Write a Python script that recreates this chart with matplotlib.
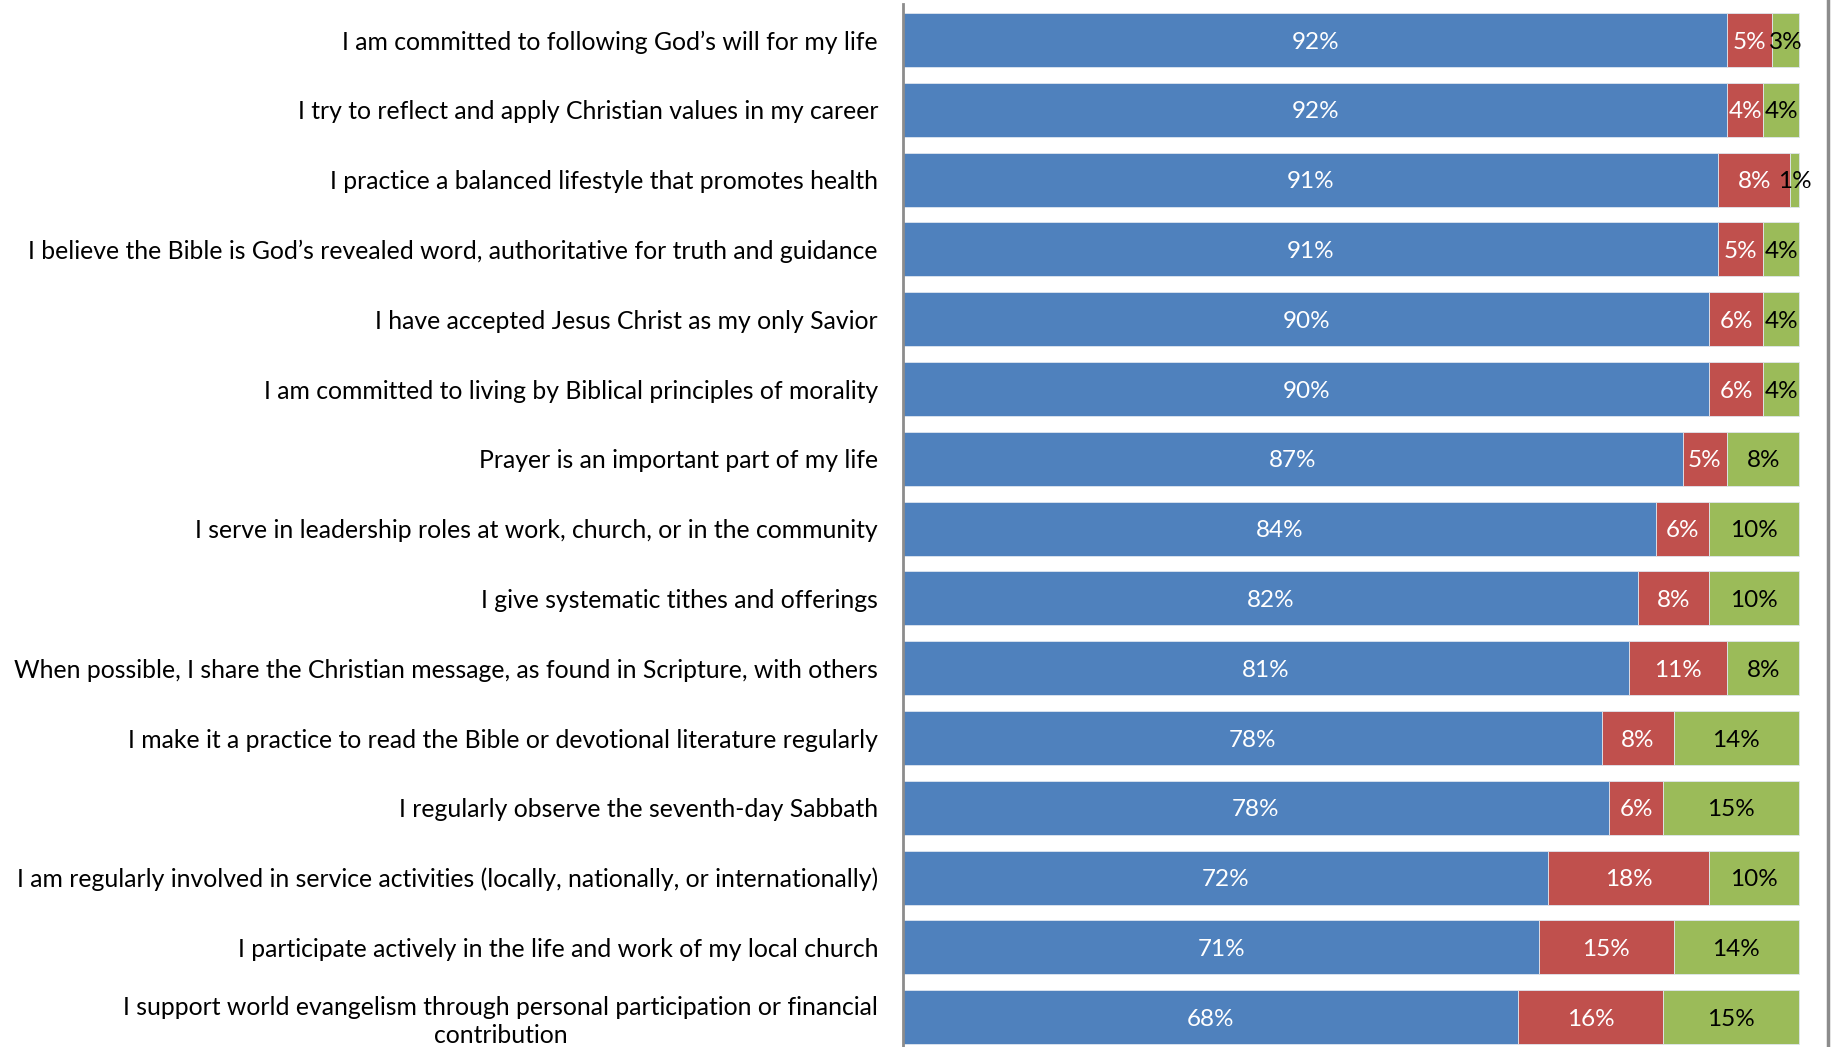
import matplotlib.pyplot as plt
import numpy as np

plt.rcParams['font.family'] = ['Lato', 'DejaVu Sans']

# survey statements, top to bottom
statements = [
    "I am committed to following God\u2019s will for my life",
    "I try to reflect and apply Christian values in my career",
    "I practice a balanced lifestyle that promotes health",
    "I believe the Bible is God\u2019s revealed word, authoritative for truth and guidance",
    "I have accepted Jesus Christ as my only Savior",
    "I am committed to living by Biblical principles of morality",
    "Prayer is an important part of my life",
    "I serve in leadership roles at work, church, or in the community",
    "I give systematic tithes and offerings",
    "When possible, I share the Christian message, as found in Scripture, with others",
    "I make it a practice to read the Bible or devotional literature regularly",
    "I regularly observe the seventh-day Sabbath",
    "I am regularly involved in service activities (locally, nationally, or internationally)",
    "I participate actively in the life and work of my local church",
    "I support world evangelism through personal participation or financial\ncontribution",
]

blue_vals = [92, 92, 91, 91, 90, 90, 87, 84, 82, 81, 78, 78, 72, 71, 68]
red_vals = [5, 4, 8, 5, 6, 6, 5, 6, 8, 11, 8, 6, 18, 15, 16]
green_vals = [3, 4, 1, 4, 4, 4, 8, 10, 10, 8, 14, 15, 10, 14, 15]

colors = ['#4F81BD', '#C0504D', '#9BBB59']
text_colors = ['white', 'white', 'black']

W, H = 1839, 1047
fig = plt.figure(figsize=(W / 100, H / 100), dpi=100)

# plot area in pixels
x0, x_end, x_right = 903, 1799, 1828
ax = fig.add_axes([x0 / W, 0, (x_right - x0) / W, 1])

vals = np.array([blue_vals, red_vals, green_vals], dtype=float)
totals = vals.sum(axis=0)
fracs = vals / totals

y = np.arange(len(statements))
left = np.zeros(len(statements))
for k in range(3):
    ax.barh(y, fracs[k], left=left, height=0.775, color=colors[k],
            edgecolor='#dfe6ef', linewidth=0.6)
    for i in range(len(y)):
        ax.text(left[i] + fracs[k][i] / 2, y[i] + 0.03, f"{int(vals[k][i])}%",
                ha='center', va='center', fontsize=17.5, color=text_colors[k])
    left += fracs[k]

pitch = 69.8
c0 = 40
ax.set_ylim((H - c0) / pitch, -c0 / pitch)
ax.set_xlim(0, (x_right - x0) / (x_end - x0))

ax.set_yticks(y)
ax.set_yticklabels(statements, fontsize=17.8, multialignment='center',
                   linespacing=1.25)
ax.tick_params(axis='y', length=0, pad=18)
ax.set_xticks([])

for s in ['top', 'bottom']:
    ax.spines[s].set_visible(False)
ax.spines['left'].set_color('#8c8c8c')
ax.spines['left'].set_linewidth(2)
ax.spines['left'].set_bounds((H - c0) / pitch, -(c0 - 4) / pitch)
ax.spines['right'].set_color('#8c8c8c')
ax.spines['right'].set_linewidth(2.5)

fig.savefig('out.png', dpi=100)
